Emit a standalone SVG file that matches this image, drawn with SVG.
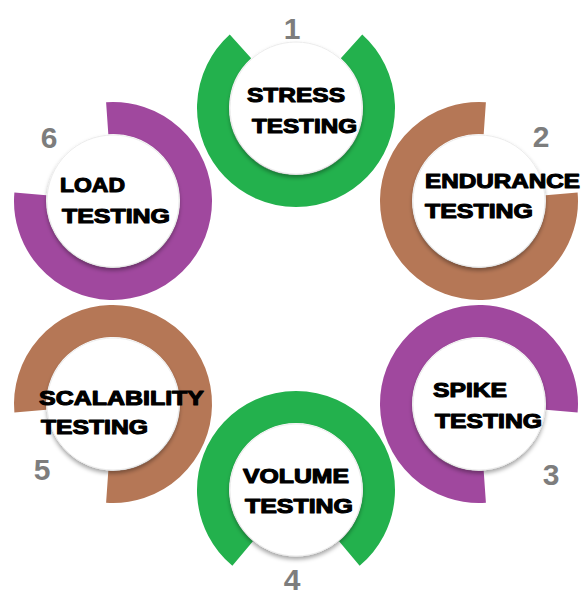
<svg xmlns="http://www.w3.org/2000/svg" width="585" height="597" viewBox="0 0 585 597">
  <defs>
    <filter id="disc-shadow" x="-20%" y="-20%" width="140%" height="150%">
      <feDropShadow dx="0" dy="3" stdDeviation="2.2" flood-color="#000" flood-opacity="0.35"/>
    </filter>
  </defs>
  <style>
    .ring { fill: none; stroke-width: 32; stroke-linecap: butt; }
    .green { stroke: #23b14d; }
    .brown { stroke: #b57756; }
    .purple { stroke: #a0489e; }
    .disc { fill: #ffffff; stroke: #ececec; stroke-width: 1; filter: url(#disc-shadow); }
    .label { font-family: "Liberation Sans", Arial, sans-serif; font-weight: bold; font-size: 20px; fill: #000; stroke: #000; stroke-width: 1.1; stroke-linejoin: round; }
    .num { font-family: "Liberation Sans", Arial, sans-serif; font-weight: bold; font-size: 30px; fill: #7d7d7d; text-anchor: middle; }
  </style>
  <rect width="585" height="597" fill="#ffffff"/>

  <!-- 1: stress testing (top) -->
  <g id="stress-testing">
    <path class="ring green" d="M351.54,46.32 A83,83 0 1 1 240.46,46.32"/>
    <circle class="disc" cx="296" cy="108" r="66"/>
    <text class="label" x="247" y="102" textLength="98" lengthAdjust="spacingAndGlyphs">STRESS</text>
    <text class="label" x="252" y="133" textLength="105" lengthAdjust="spacingAndGlyphs">TESTING</text>
    <text class="num" x="292" y="39">1</text>
  </g>

  <!-- 2: endurance testing (upper right) -->
  <g id="endurance-testing">
    <path class="ring brown" d="M561.68,193.77 A83,83 0 1 1 484.79,118.20"/>
    <circle class="disc" cx="479" cy="201" r="66"/>
    <text class="label" x="425" y="188" textLength="155" lengthAdjust="spacingAndGlyphs">ENDURANCE</text>
    <text class="label" x="425" y="218" textLength="108" lengthAdjust="spacingAndGlyphs">TESTING</text>
    <text class="num" x="541" y="147">2</text>
  </g>

  <!-- 3: spike testing (lower right) -->
  <g id="spike-testing">
    <path class="ring purple" d="M484.79,486.80 A83,83 0 1 1 561.68,411.23"/>
    <circle class="disc" cx="479" cy="404" r="66"/>
    <text class="label" x="433" y="397" textLength="74" lengthAdjust="spacingAndGlyphs">SPIKE</text>
    <text class="label" x="435" y="428" textLength="107" lengthAdjust="spacingAndGlyphs">TESTING</text>
    <text class="num" x="551" y="485">3</text>
  </g>

  <!-- 4: volume testing (bottom) -->
  <g id="volume-testing">
    <path class="ring green" d="M242.65,553.58 A83,83 0 1 1 349.35,553.58"/>
    <circle class="disc" cx="296" cy="490" r="66"/>
    <text class="label" x="243" y="483" textLength="106" lengthAdjust="spacingAndGlyphs">VOLUME</text>
    <text class="label" x="245" y="513" textLength="108" lengthAdjust="spacingAndGlyphs">TESTING</text>
    <text class="num" x="292" y="590">4</text>
  </g>

  <!-- 5: scalability testing (lower left) -->
  <g id="scalability-testing">
    <path class="ring brown" d="M30.32,411.23 A83,83 0 1 1 107.21,486.80"/>
    <circle class="disc" cx="113" cy="404" r="66"/>
    <text class="label" x="39" y="405" textLength="165" lengthAdjust="spacingAndGlyphs">SCALABILITY</text>
    <text class="label" x="41" y="434" textLength="107" lengthAdjust="spacingAndGlyphs">TESTING</text>
    <text class="num" x="42" y="480">5</text>
  </g>

  <!-- 6: load testing (upper left) -->
  <g id="load-testing">
    <path class="ring purple" d="M107.21,118.20 A83,83 0 1 1 30.32,193.77"/>
    <circle class="disc" cx="113" cy="201" r="66"/>
    <text class="label" x="60" y="192" textLength="65" lengthAdjust="spacingAndGlyphs">LOAD</text>
    <text class="label" x="62" y="223" textLength="108" lengthAdjust="spacingAndGlyphs">TESTING</text>
    <text class="num" x="49" y="148">6</text>
  </g>
</svg>
